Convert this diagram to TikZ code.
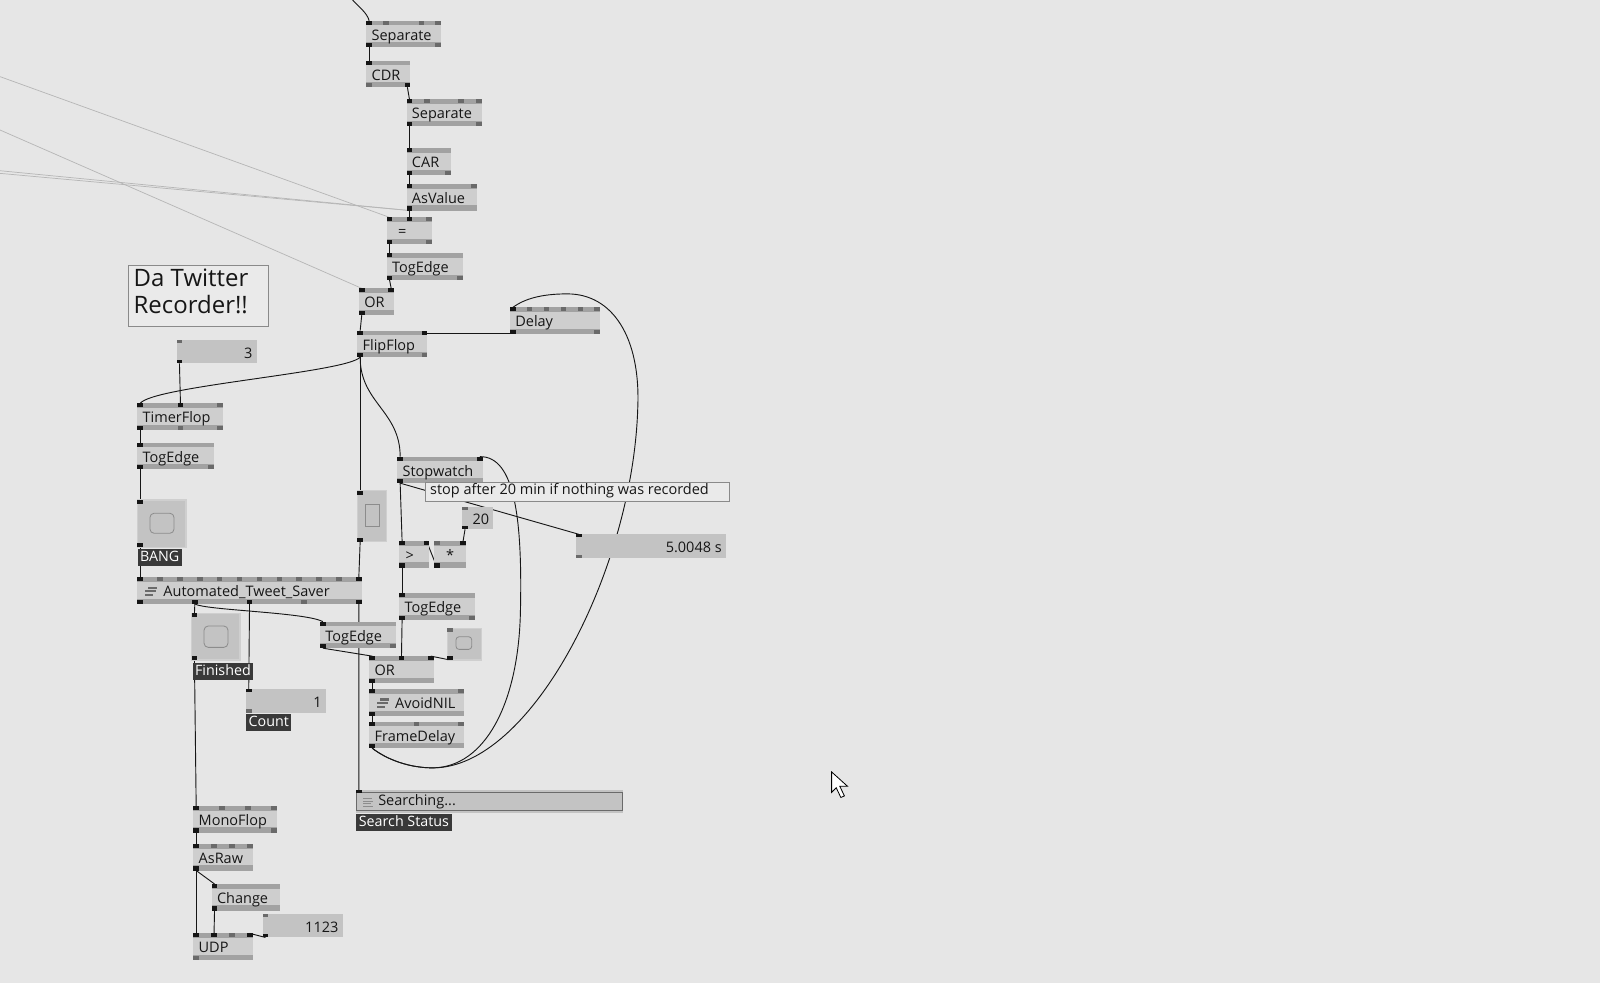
\documentclass[tikz,border=0pt]{standalone}
\usepackage{fontspec}
\setmainfont{Open Sans}
\usepackage{tikz}
\usetikzlibrary{calc}

\definecolor{patchbg}{HTML}{E6E6E6}
\definecolor{nodebody}{HTML}{CECECE}
\definecolor{nodestrip}{HTML}{A2A2A2}
\definecolor{pinon}{HTML}{151515}
\definecolor{pinoff}{HTML}{6A6A6A}
\definecolor{iofill}{HTML}{C3C3C3}
\definecolor{togrim}{HTML}{CFCFCF}
\definecolor{knob}{HTML}{8C8C8C}
\definecolor{tagfill}{HTML}{393939}
\definecolor{ink}{HTML}{161616}
\definecolor{ghost}{HTML}{B6B6B6}
\definecolor{notefill}{HTML}{EAEAEA}
\definecolor{noteline}{HTML}{8A8A8A}

\pgfdeclarelayer{canvas}
\pgfdeclarelayer{links}
\pgfsetlayers{canvas,links,main}

\tikzset{
  vvbody/.style={fill=nodebody, inner sep=0pt, outer sep=0pt, minimum height=26pt},
  vvtxt/.style={inner sep=0pt, text=ink, font=\fontsize{14.2}{16}\selectfont},
  vvio/.style={fill=iofill, inner sep=0pt, outer sep=0pt},
  vvtog/.style={fill=iofill, draw=togrim, line width=1.2pt, inner sep=0pt, outer sep=0pt},
  vvtag/.style={fill=tagfill, text=white, anchor=north west, inner xsep=2.5pt, inner ysep=1.8pt,
    text height=10.5pt, text depth=2.5pt, font=\fontsize{14}{16}\selectfont},
  note/.style={fill=notefill, draw=noteline, line width=0.8pt, inner sep=0pt, outer sep=0pt},
  knobline/.style={draw=knob, line width=0.8pt},
  wire/.style={draw=ink, line width=0.9pt},
  ghostwire/.style={draw=ghost, line width=0.7pt}
}

% #1 text inset, #2 name, #3 x, #4 y, #5 width, #6 label, #7 inputs, #8 outputs
\newcommand{\vvnode}[8][5]{%
  \node[vvbody, minimum width=#5pt, anchor=north west] (#2) at (#3,#4) {};
  \fill[nodestrip] (#2.north west) rectangle ($(#2.north east)+(0,4.5)$);
  \fill[nodestrip] (#2.south west) rectangle ($(#2.south east)+(0,-5)$);
  \foreach \pos/\col [count=\k] in {#7}{%
    \fill[fill=\col] ($(#2.north west)+(\pos,0)$) rectangle ++(5.5,4);
    \coordinate (#2-i\k) at ($(#2.north west)+(\pos+2.75,0)$);
  }
  \foreach \pos/\col [count=\k] in {#8}{%
    \fill[fill=\col] ($(#2.south west)+(\pos,0)$) rectangle ++(5.5,-4);
    \coordinate (#2-o\k) at ($(#2.south west)+(\pos+2.75,0)$);
  }
  \node[vvtxt, anchor=base west] (#2-t) at ($(#2.north west)+(#1,19)$) {#6};
}

% name, x, y, width, height, input pin, output pin
\newcommand{\vvtoggle}[7]{%
  \node[vvtog, minimum width=#4pt, minimum height=#5pt, anchor=north west] (#1) at (#2,#3) {};
  \fill[fill=#6] (#1.north west) rectangle ++(5.5,4);
  \fill[fill=#7] (#1.south west) rectangle ++(5.5,-4);
  \coordinate (#1-i1) at ($(#1.north west)+(2.75,0)$);
  \coordinate (#1-o1) at ($(#1.south west)+(2.75,0)$);
}

% name, x, y, width, height, value, input pin, output pin
\newcommand{\vvvalue}[8]{%
  \node[vvio, minimum width=#4pt, minimum height=#5pt, anchor=north west] (#1) at (#2,#3) {};
  \fill[fill=#7] (#1.north west) rectangle ++(5.5,3);
  \fill[fill=#8] (#1.south west) rectangle ++(5.5,-3.5);
  \coordinate (#1-i1) at ($(#1.north west)+(2.75,0)$);
  \coordinate (#1-o1) at ($(#1.south west)+(2.75,0)$);
  \node[vvtxt, anchor=base east] (#1-t) at ($(#1.north east)+(-4,17.8)$) {#6};
}

\newcommand{\vvsubicon}[1]{%
  \fill[pinoff] ($(#1.north west)+(10.5,9)$) rectangle ++(9,2);
  \fill[pinoff] ($(#1.north west)+(7.5,12.5)$) rectangle ++(10.5,2);
  \fill[pinoff] ($(#1.north west)+(7.5,16)$) rectangle ++(7.5,2);
}

\begin{document}
\begin{tikzpicture}[x=1pt, y=-1pt]

\begin{pgfonlayer}{canvas}
\fill[patchbg] (0,0) rectangle (1568,963.34);
\end{pgfonlayer}
\useasboundingbox (0,0) rectangle (1568,963.34);

% parsing chain
\vvnode{sepa}{359}{20.3}{73}{Separate}{0/pinon,16.3/pinoff,51.3/pinoff,67.5/pinoff}{0/pinon,67.5/pinoff}
\vvnode{cdr}{359}{59.5}{43}{CDR}{0/pinon}{0/pinoff,37.5/pinon}
\vvnode{sepb}{398.5}{97.3}{73.5}{Separate}{0/pinon,17/pinoff,50.7/pinoff,68/pinoff}{0/pinon,68/pinoff}
\vvnode{car}{398.5}{145.4}{43}{CAR}{0/pinon}{0/pinon,37.5/pinoff}
\vvnode{asval}{398.5}{180.3}{68.7}{AsValue}{0/pinon,63.2/pinoff}{0/pinon}
\vvnode[11]{eq}{379}{213}{44}{=}{0/pinon,19.6/pinon,38.5/pinoff}{0/pinon,38.5/pinoff}
\vvnode{toga}{379}{248.3}{74.4}{TogEdge}{0/pinon}{0/pinon,68.9/pinoff}
\vvnode{ora}{351.8}{282.6}{34.3}{OR}{0/pinon,28.8/pinon}{0/pinon}
\vvnode{flip}{350.2}{324}{68.6}{FlipFlop}{0/pinon,63.1/pinon}{0/pinon,63.1/pinoff}
\vvnode{delay}{499.8}{301.2}{88.2}{Delay}{0/pinon,16.5/pinoff,33/pinoff,49.7/pinoff,66.2/pinoff,82.7/pinoff}{0/pinon,82.7/pinoff}

% timer side
\vvvalue{three}{173.1}{333.2}{78.4}{22.8}{3}{pinoff}{pinon}
\vvnode{timer}{134.6}{395.3}{83.6}{TimerFlop}{0/pinon,39.5/pinon,78.1/pinoff}{0/pinon,39.5/pinoff,78.1/pinoff}
\vvnode{togb}{134.6}{433.8}{75}{TogEdge}{0/pinon}{0/pinon,69.5/pinoff}
\vvtoggle{bang}{134.6}{490}{47.7}{46.4}{pinon}{pinon}
\draw[knobline, rounded corners=4pt] ($(bang.north west)+(12.4,13)$) rectangle ++(23.5,19.6);
\vvtoggle{flipt}{350.2}{481}{28.8}{49.9}{pinon}{pinon}
\draw[knobline] ($(flipt.north west)+(7.5,13)$) rectangle ++(13.7,22.2);

\vvnode[25.4]{ats}{134.6}{565.8}{219.8}{Automated\_Tweet\_Saver}{0/pinon,19.5/pinoff,39/pinoff,58.4/pinoff,77.9/pinoff,97.4/pinoff,116.9/pinoff,136.4/pinoff,155.8/pinoff,175.3/pinoff,194.8/pinoff,214.3/pinon}{0/pinon,53.6/pinon,107.2/pinon,160.7/pinoff,214.3/pinon}
\vvsubicon{ats}
\node[vvtag] (bang-l) at (134.6,537.4) {BANG};

\vvtoggle{fin}{187.8}{601}{47.4}{45.8}{pinon}{pinon}
\draw[knobline, rounded corners=4pt] ($(fin.north west)+(12.2,12.5)$) rectangle ++(23.4,20.9);
\node[vvtag] (fin-l) at (188.5,649.4) {Finished};
\vvvalue{count}{241}{675.5}{78.5}{23}{1}{pinon}{pinoff}
\node[vvtag] (count-l) at (241,699.7) {Count};

% stopwatch
\vvnode{stopw}{389.4}{447.5}{83.6}{Stopwatch}{0/pinon,78.1/pinon}{0/pinon}
\vvvalue{twenty}{453}{496.5}{30.5}{22.2}{20}{pinoff}{pinon}
\vvvalue{secs}{564.5}{523.6}{147}{23.6}{5.0048 s}{pinon}{pinoff}
\vvnode[6]{gt}{391.3}{530.2}{29.4}{>}{0/pinon,23.9/pinon}{0/pinon}
\vvnode[11.5]{mul}{425.6}{530.2}{31}{*}{0/pinoff,25.5/pinon}{0/pinon}
\vvnode{togc}{391.3}{581.5}{74.2}{TogEdge}{0/pinon}{0/pinon,68.7/pinoff}
\vvnode{togd}{313.6}{609.2}{74.4}{TogEdge}{0/pinon}{0/pinon,68.9/pinoff}
\vvtoggle{bangb}{438.4}{615.8}{33.6}{31}{pinoff}{pinon}
\draw[knobline, rounded corners=3pt] ($(bangb.north west)+(8.5,8.2)$) rectangle ++(15.4,12.4);
\vvnode{orb}{362}{643}{63}{OR}{0/pinon,28.7/pinon,57.5/pinon}{0/pinon}
\vvnode[25]{avoid}{362}{675.5}{92.7}{AvoidNIL}{0/pinon,87.2/pinoff}{0/pinon}
\vvsubicon{avoid}
\vvnode{fdelay}{362}{707.2}{92.7}{FrameDelay}{0/pinon,43.6/pinoff,87.2/pinoff}{0/pinon}

% status string
\node[vvio, minimum width=261.3pt, minimum height=22.8pt, anchor=north west] (search) at (348.9,774.2) {};
\draw[draw=pinoff, line width=0.9pt] ($(search.north west)+(0.6,2.6)$) rectangle ($(search.south east)+(-0.6,-2.6)$);
\fill[pinon] (search.north west) rectangle ++(5.5,3);
\coordinate (search-i1) at ($(search.north west)+(2.75,0)$);
\foreach \dy/\len in {8/9,10.7/10,13.4/8,16.1/10}
  \draw[draw=knob, line width=0.6pt] ($(search.north west)+(7,\dy)$) -- ++(\len,0);
\node[vvtxt, anchor=base west] (search-t) at ($(search.north west)+(21.6,15.2)$) {Searching...};
\node[vvtag] (search-l) at (349,797.5) {Search Status};

% udp out
\vvnode{mono}{189.5}{789.9}{81.6}{MonoFlop}{0/pinon,25.4/pinoff,50.7/pinoff,76.1/pinoff}{0/pinon,76.1/pinoff}
\vvnode{asraw}{189.5}{827.1}{58}{AsRaw}{0/pinon,17.5/pinoff,35/pinoff,52.5/pinoff}{0/pinon}
\vvnode{change}{207.5}{866.3}{67}{Change}{0/pinon}{0/pinon}
\vvvalue{port}{257.4}{895.7}{78.4}{23}{1123}{pinoff}{pinon}
\vvnode{udp}{189.5}{914.7}{58}{UDP}{0/pinon,17.5/pinon,35/pinoff,52.5/pinon}{0/pinoff}

% comments
\node[note, minimum width=137.2pt, minimum height=60.3pt, anchor=north west] (title) at (125.8,259.7) {};
\node[anchor=north west, inner sep=0pt, align=left, text=ink, font=\fontsize{23.5}{26.5}\selectfont] (title-t) at ($(title.north west)+(5,3.5)$) {Da Twitter\\Recorder!!};
\node[note, minimum width=298.2pt, minimum height=18.6pt, anchor=north west] (hint) at (416.5,473) {};
\node[vvtxt, anchor=base west] (hint-t) at ($(hint.north west)+(4.9,12)$) {stop after 20 min if nothing was recorded};

% mouse pointer
\filldraw[fill=white, draw=black, line width=0.8pt] (815,756.5) -- ++(0,20) -- ++(4.5,-4.5) -- ++(4.5,9.5) -- ++(3.5,-1.5) -- ++(-4.5,-9.5) -- ++(7.5,0) -- cycle;

\begin{pgfonlayer}{links}
\coordinate (feed) at (345.6,0);
\coordinate (ghosta) at (0,75.1);
\coordinate (ghostb) at (0,127.4);
\coordinate (ghostc) at (0,167.3);
\coordinate (ghostd) at (0,169.9);

\draw[ghostwire] (ghosta) -- (eq-i1);
\draw[ghostwire] (ghostb) -- (ora-i1);
\draw[ghostwire] (ghostc) -- (asval-o1);
\draw[ghostwire] (ghostd) -- (asval-o1);

\draw[wire] (feed) .. controls +(6,7) and +(-2,-8) .. (sepa-i1);
\draw[wire] (sepa-o1) -- (cdr-i1);
\draw[wire] (cdr-o2) -- (sepb-i1);
\draw[wire] (sepb-o1) -- (car-i1);
\draw[wire] (car-o1) -- (asval-i1);
\draw[wire] (asval-o1) -- (eq-i2);
\draw[wire] (eq-o1) -- (toga-i1);
\draw[wire] (toga-o1) -- (ora-i2);
\draw[wire] (ora-o1) -- (flip-i1);
\draw[wire] (delay-o1) -- (delay-o1 -| flip-i2);

\draw[wire] (flip-o1) .. controls +(-13,15) and +(13,-17) .. (timer-i1);
\draw[wire] (flip-o1) .. controls +(0,45) and +(0,-45) .. (stopw-i1);
\draw[wire] (flip-o1) -- (flipt-i1);
\draw[wire] (three-o1) -- (timer-i2);
\draw[wire] (timer-o1) -- (togb-i1);
\draw[wire] (togb-o1) -- (bang-i1);
\draw[wire] (bang-o1) -- (ats-i1);
\draw[wire] (flipt-o1) -- (ats-i12);

\draw[wire] (ats-o2) -- (fin-i1);
\draw[wire] (ats-o2) .. controls (200,598) and (300,600) .. (togd-i1);
\draw[wire] (ats-o3) -- (count-i1);
\draw[wire] (ats-o5) -- (search-i1);
\draw[wire] (fin-o1) -- (mono-i1);

\draw[wire] (stopw-o1) -- (gt-i1);
\draw[wire] (stopw-o1) -- (secs-i1);
\draw[wire] (twenty-o1) -- (mul-i2);
\draw[wire] (mul-o1) -- (gt-i2);
\draw[wire] (gt-o1) -- (togc-i1);
\draw[wire] (togc-o1) -- (orb-i2);
\draw[wire] (togd-o1) -- (orb-i1);
\draw[wire] (bangb-o1) -- (orb-i3);
\draw[wire] (orb-o1) -- (avoid-i1);
\draw[wire] (avoid-o1) -- (fdelay-i1);

\draw[wire] (fdelay-o1) .. controls (380,745) and (402,752.5) .. (424,752.5)
  .. controls (520,753) and (620,560) .. (625,400)
  .. controls (628,330) and (600,288) .. (556,288)
  .. controls (530,288) and (514,293) .. (delay-i1);
\draw[wire] (fdelay-o1) .. controls (380,745) and (402,752.5) .. (424,752.5)
  .. controls (475,752) and (508,690) .. (510,600)
  .. controls (512,510) and (505,447) .. (stopw-i2);

\draw[wire] (mono-o1) -- (asraw-i1);
\draw[wire] (asraw-o1) -- (change-i1);
\draw[wire] (asraw-o1) -- (udp-i1);
\draw[wire] (change-o1) -- (udp-i2);
\draw[wire] (port-o1) -- (udp-i4);
\end{pgfonlayer}

\end{tikzpicture}
\end{document}
